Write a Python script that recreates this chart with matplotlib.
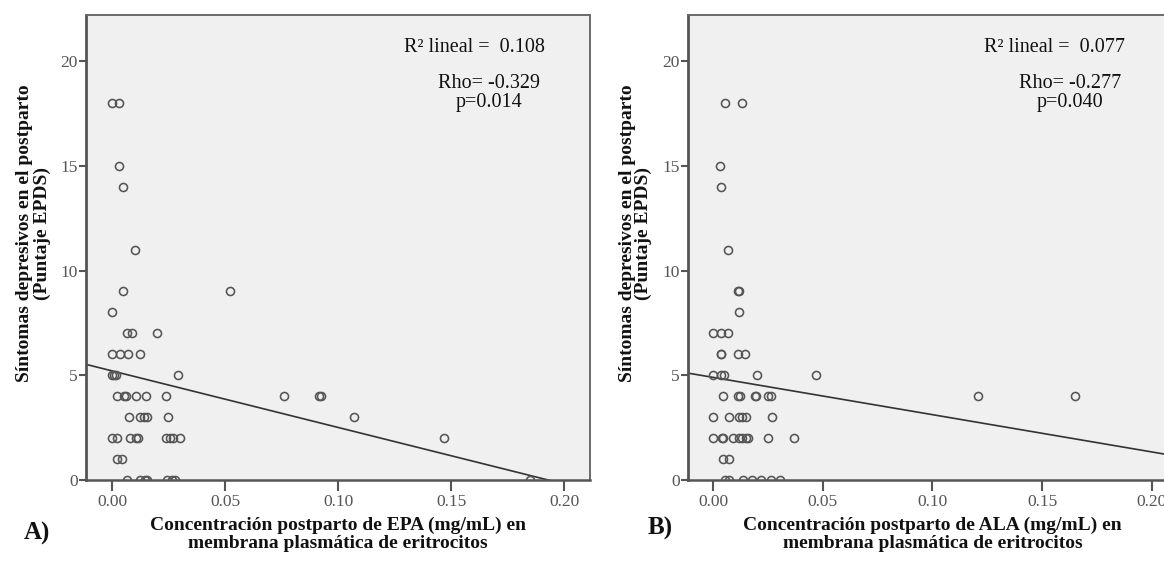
import matplotlib
matplotlib.use("Agg")
import matplotlib.pyplot as plt
import numpy as np

# ---------------- data ----------------
epa_x = [0.000, 0.003, 0.003, 0.005, 0.010, 0.005, 0.052, 0.000,
         0.0065, 0.009, 0.020,
         0.000, 0.0035, 0.007, 0.0125,
         0.000, 0.0008, 0.0016, 0.029,
         0.002, 0.0055, 0.006, 0.0105, 0.015, 0.024, 0.076, 0.0915, 0.0925,
         0.0075, 0.0125, 0.014, 0.0155, 0.025, 0.107,
         0.000, 0.002, 0.008, 0.0105, 0.0115, 0.024, 0.0255, 0.027, 0.030, 0.147,
         0.002, 0.0045,
         0.0065, 0.0125, 0.0145, 0.0155, 0.0245, 0.0265, 0.028, 0.185]
epa_y = [18, 18, 15, 14, 11, 9, 9, 8,
         7, 7, 7,
         6, 6, 6, 6,
         5, 5, 5, 5,
         4, 4, 4, 4, 4, 4, 4, 4, 4,
         3, 3, 3, 3, 3, 3,
         2, 2, 2, 2, 2, 2, 2, 2, 2, 2,
         1, 1,
         0, 0, 0, 0, 0, 0, 0, 0]

ala_x = [0.0055, 0.013, 0.003, 0.0035, 0.007, 0.0115, 0.0118, 0.012,
         0.000, 0.0035, 0.007,
         0.0035, 0.0037, 0.0115, 0.0145,
         0.000, 0.0035, 0.005, 0.020, 0.047,
         0.0045, 0.0115, 0.0125, 0.0193, 0.0197, 0.025, 0.0265, 0.121, 0.165,
         0.000, 0.0075, 0.012, 0.0133, 0.015, 0.027,
         0.000, 0.0043, 0.0046, 0.009, 0.012, 0.0133, 0.015, 0.016, 0.025, 0.037,
         0.0045, 0.0075,
         0.0055, 0.0075, 0.0135, 0.018, 0.022, 0.0265, 0.0305]
ala_y = [18, 18, 15, 14, 11, 9, 9, 8,
         7, 7, 7,
         6, 6, 6, 6,
         5, 5, 5, 5, 5,
         4, 4, 4, 4, 4, 4, 4, 4, 4,
         3, 3, 3, 3, 3, 3,
         2, 2, 2, 2, 2, 2, 2, 2, 2, 2,
         1, 1,
         0, 0, 0, 0, 0, 0, 0]

fit_intercept = [5.21, 4.90]
fit_slope = [-27.0, -17.8]

x_ticks = [0.00, 0.05, 0.10, 0.15, 0.20]
x_ticklabels = ["0.00", "0.05", "0.10", "0.15", "0.20"]
y_ticks = [0, 5, 10, 15, 20]

r2_texts = ["R² lineal =  0.108", "R² lineal =  0.077"]
rho_texts = ["Rho= -0.329", "Rho= -0.277"]
p_texts = ["p=0.014", "p=0.040"]
xlabels = [["Concentración postparto de EPA (mg/mL) en", "membrana plasmática de eritrocitos"],
           ["Concentración postparto de ALA (mg/mL) en", "membrana plasmática de eritrocitos"]]
ylabel_lines = ["Síntomas depresivos en el postparto", "(Puntaje EPDS)"]
panel_tags = ["A)", "B)"]

# ---------------- figure ----------------
W, H = 1164, 561
fig = plt.figure(figsize=(W / 100, H / 100), dpi=100)
serif = ["Liberation Serif", "DejaVu Serif"]
plt.rcParams["font.family"] = serif

def fx(px):
    return px / W

def fy(py):
    return 1 - py / H

ax_boxes = [(86, 590), (688, 1177)]
top_px, bot_px = 15, 480
xlims = [(-0.0115, 0.2115), (-0.0114, 0.2115)]
data = [(epa_x, epa_y), (ala_x, ala_y)]
ylabel_x = [(25, 42), (627, 643)]
tag_pos = [(37, 533), (660, 528)]
xlab_y = (525, 543)

for i in range(2):
    l, r = ax_boxes[i]
    ax = fig.add_axes([fx(l), fy(bot_px), fx(r - l), (bot_px - top_px) / H])
    ax.set_facecolor("#F0F0F0")
    ax.set_xlim(*xlims[i])
    ax.set_ylim(0, 22.2)
    xs, ys = data[i]
    ax.plot(xs, ys, linestyle="none", marker="o", ms=5.8, mfc="none",
            mec="#555555", mew=1.15, zorder=3)
    xl = np.array(ax.get_xlim())
    ax.plot(xl, fit_intercept[i] + fit_slope[i] * xl, color="#333333", lw=1.2, zorder=2)

    ax.set_xticks(x_ticks)
    ax.set_xticklabels(x_ticklabels)
    ax.set_yticks(y_ticks)
    ax.tick_params(axis="x", direction="out", length=8, width=1.5, color="#555555",
                   labelsize=12.5, labelcolor="#555555", pad=2)
    ax.tick_params(axis="y", direction="out", length=5, width=1.5, color="#555555",
                   labelsize=12.5, labelcolor="#555555", pad=1)
    for s in ax.spines.values():
        s.set_color("#6a6a6a")
        s.set_linewidth(1.4)
    ax.spines["left"].set_color("#555555")
    ax.spines["left"].set_linewidth(2.0)
    ax.spines["bottom"].set_color("#555555")
    ax.spines["bottom"].set_linewidth(1.8)

    # annotations
    width = r - l
    r2x = ((545 if i == 0 else 1125) - l) / width
    ctrx = ((489 if i == 0 else 1070) - l) / width
    ax.text(r2x, (bot_px - 47) / (bot_px - top_px), r2_texts[i], transform=ax.transAxes,
            ha="right", va="center", fontsize=14.5, color="#111111")
    ax.text(ctrx, (bot_px - 83) / (bot_px - top_px), rho_texts[i], transform=ax.transAxes,
            ha="center", va="center", fontsize=14.5, color="#111111")
    ax.text(ctrx, (bot_px - 102) / (bot_px - top_px), p_texts[i], transform=ax.transAxes,
            ha="center", va="center", fontsize=14.5, color="#111111")

    # x label (two centred lines)
    cx = fx((l + min(r, 1177)) / 2)
    fig.text(cx, fy(xlab_y[0]), xlabels[i][0], ha="center", va="center", fontsize=14,
             fontweight="bold", color="#111111")
    fig.text(cx, fy(xlab_y[1]), xlabels[i][1], ha="center", va="center", fontsize=14,
             fontweight="bold", color="#111111")

    # y label (two rotated lines)
    fig.text(fx(ylabel_x[i][0]), fy(233), ylabel_lines[0], rotation=90, ha="center",
             va="center", fontsize=14, fontweight="bold", color="#111111")
    fig.text(fx(ylabel_x[i][1]), fy(233), ylabel_lines[1], rotation=90, ha="center",
             va="center", fontsize=14, fontweight="bold", color="#111111")

    # panel tag
    fig.text(fx(tag_pos[i][0]), fy(tag_pos[i][1]), panel_tags[i], ha="center", va="center",
             fontsize=18, fontweight="bold", color="#111111")

fig.savefig("out.png", dpi=100, facecolor="white")
